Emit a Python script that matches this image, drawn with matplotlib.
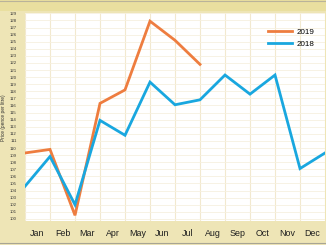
import matplotlib
matplotlib.use('Agg')
import matplotlib.pyplot as plt
from matplotlib.lines import Line2D
from matplotlib.patches import Rectangle

months = ['Jan', 'Feb', 'Mar', 'Apr', 'May', 'Jun', 'Jul', 'Aug', 'Sep', 'Oct', 'Nov', 'Dec']
values_2019 = [109.3, 109.8, 100.5, 116.3, 118.2, 127.9, 125.2, 121.8]
values_2018 = [104.6, 108.8, 102.0, 113.9, 111.8, 119.3, 116.1, 116.8, 120.3, 117.6, 120.3, 107.1, 109.3]
y_ticks = list(range(100, 130))

orange = '#ee7d3f'
blue = '#19a7df'
bg = '#eee5b6'

plt.rcParams['font.family'] = ['Liberation Sans Narrow', 'Liberation Sans', 'DejaVu Sans']

fig = plt.figure(figsize=(3.26, 2.45), dpi=100, facecolor=bg)
ax = fig.add_axes([25 / 326, 24 / 245, 300 / 326, 208 / 245])
ax.set_facecolor('white')

# top band and bottom rule
fig.patches.append(Rectangle((0, 1 - 11 / 245), 1, 11 / 245, transform=fig.transFigure,
                             facecolor='#e9df9f', edgecolor='none', zorder=0))
fig.add_artist(Line2D([0, 1], [1 - 1 / 245, 1 - 1 / 245], color='#b9b39a', lw=0.8,
                      transform=fig.transFigure))
fig.add_artist(Line2D([0, 1], [2 / 245, 2 / 245], color='#a8a594', lw=0.8,
                      transform=fig.transFigure))

ax.plot(range(len(values_2019)), values_2019, color=orange, lw=2.0, label='2019',
        solid_joinstyle='miter', zorder=3)
ax.plot(range(len(values_2018)), values_2018, color=blue, lw=2.0, label='2018',
        solid_joinstyle='miter', zorder=3)

ax.set_xlim(0, 12)
ax.set_ylim(99.7, 129.05)

ax.set_xticks(range(13))
ax.set_xticklabels([])
ax.set_xticks([i + 0.5 for i in range(12)], minor=True)
ax.set_xticklabels(months, minor=True, fontsize=6.4, color='#1e1e1e')
ax.tick_params(axis='x', which='both', length=0, pad=5.5)

ax.set_yticks(y_ticks)
ax.set_yticklabels([str(v) for v in y_ticks], fontsize=3.1, color='#333333')
ax.tick_params(axis='y', length=0, pad=6)

ax.grid(axis='x', color='#f2e9cf', lw=0.8)
ax.grid(axis='y', color='#f6f0df', lw=0.6)
for s in ax.spines.values():
    s.set_visible(False)

fig.text(0.012, 0.52, 'Price (pence per litre)', rotation=90, fontsize=3.4,
         color='#333333', ha='center', va='center')

leg = ax.legend(loc='upper right', bbox_to_anchor=(0.99, 0.96), frameon=False,
                fontsize=5.8, handlelength=3.0, labelspacing=0.5, handletextpad=0.6)

fig.savefig('out.png', dpi=100, facecolor=bg)
